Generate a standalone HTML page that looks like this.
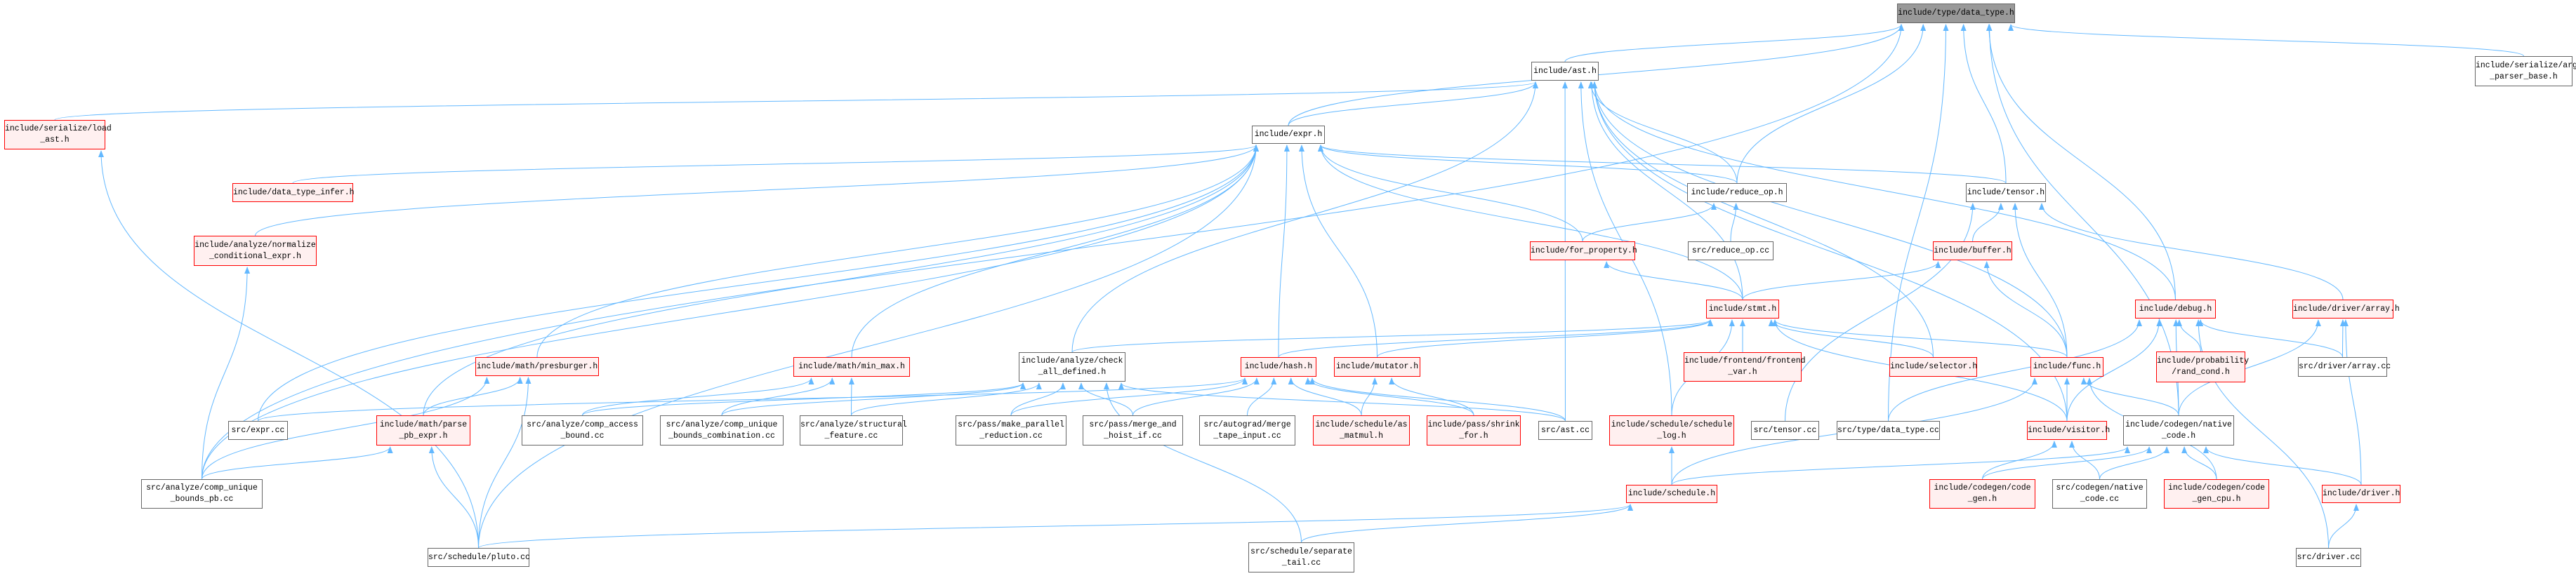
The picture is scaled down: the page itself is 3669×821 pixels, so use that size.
<!DOCTYPE html>
<html><head><meta charset="utf-8">
<style>
html,body{margin:0;padding:0;background:#fff;}
#wrap{position:relative;width:3669px;height:821px;overflow:hidden;background:#fff;}
svg{position:absolute;left:0;top:0;}
.n{position:absolute;box-sizing:border-box;border:1px solid #666;background:#fff;font-family:"Liberation Mono","DejaVu Sans Mono",monospace;font-size:11.5px;color:#000;text-align:center;display:flex;flex-direction:column;justify-content:center;line-height:16px;white-space:nowrap;overflow:visible;}
.r{border-color:#ff0000;background:#fff0f0;}
.g{background:#999;}
</style></head><body>
<div id="wrap">
<svg id="edges" width="3669" height="821" viewBox="0 0 3669 821">
<defs><marker id="ah" markerWidth="10" markerHeight="8" refX="9" refY="4" orient="auto" markerUnits="userSpaceOnUse"><path d="M0,0 L10,4 L0,8 z" fill="#63b8ff"/></marker></defs>
</svg>
<div class="n g" id="dt" style="left:2702px;top:5px;width:168px;height:28px">include/type/data_type.h</div>
<div class="n" id="arg" style="left:3525px;top:80px;width:139px;height:43px"><span>include/serialize/arg</span><span>_parser_base.h</span></div>
<div class="n" id="ast" style="left:2181px;top:88px;width:96px;height:27px">include/ast.h</div>
<div class="n r" id="load" style="left:6px;top:171px;width:144px;height:42px"><span>include/serialize/load</span><span>_ast.h</span></div>
<div class="n" id="expr" style="left:1783px;top:179px;width:104px;height:26px">include/expr.h</div>
<div class="n r" id="dti" style="left:331px;top:261px;width:172px;height:27px">include/data_type_infer.h</div>
<div class="n" id="redh" style="left:2403px;top:261px;width:142px;height:27px">include/reduce_op.h</div>
<div class="n" id="tensor" style="left:2800px;top:261px;width:114px;height:27px">include/tensor.h</div>
<div class="n r" id="norm" style="left:276px;top:336px;width:175px;height:43px"><span>include/analyze/normalize</span><span>_conditional_expr.h</span></div>
<div class="n r" id="forp" style="left:2179px;top:344px;width:150px;height:27px">include/for_property.h</div>
<div class="n" id="redcc" style="left:2404px;top:344px;width:122px;height:27px">src/reduce_op.cc</div>
<div class="n r" id="buffer" style="left:2753px;top:344px;width:113px;height:27px">include/buffer.h</div>
<div class="n r" id="stmt" style="left:2430px;top:427px;width:104px;height:27px">include/stmt.h</div>
<div class="n r" id="debug" style="left:3041px;top:427px;width:115px;height:27px">include/debug.h</div>
<div class="n r" id="darr" style="left:3265px;top:427px;width:144px;height:27px">include/driver/array.h</div>
<div class="n r" id="presb" style="left:677px;top:509px;width:176px;height:27px">include/math/presburger.h</div>
<div class="n r" id="minmax" style="left:1130px;top:509px;width:166px;height:28px">include/math/min_max.h</div>
<div class="n" id="check" style="left:1451px;top:502px;width:152px;height:42px"><span>include/analyze/check</span><span>_all_defined.h</span></div>
<div class="n r" id="hash" style="left:1767px;top:509px;width:108px;height:28px">include/hash.h</div>
<div class="n r" id="mut" style="left:1900px;top:509px;width:123px;height:28px">include/mutator.h</div>
<div class="n r" id="fvar" style="left:2398px;top:502px;width:168px;height:42px"><span>include/frontend/frontend</span><span>_var.h</span></div>
<div class="n r" id="sel" style="left:2691px;top:509px;width:125px;height:28px">include/selector.h</div>
<div class="n r" id="func" style="left:2892px;top:509px;width:104px;height:28px">include/func.h</div>
<div class="n r" id="prob" style="left:3071px;top:501px;width:127px;height:44px"><span>include/probability</span><span>/rand_cond.h</span></div>
<div class="n" id="darrcc" style="left:3273px;top:509px;width:127px;height:28px">src/driver/array.cc</div>
<div class="n" id="exprcc" style="left:325px;top:600px;width:85px;height:27px">src/expr.cc</div>
<div class="n r" id="parse" style="left:536px;top:592px;width:134px;height:43px"><span>include/math/parse</span><span>_pb_expr.h</span></div>
<div class="n" id="access" style="left:743px;top:592px;width:173px;height:43px"><span>src/analyze/comp_access</span><span>_bound.cc</span></div>
<div class="n" id="combo" style="left:940px;top:592px;width:176px;height:43px"><span>src/analyze/comp_unique</span><span>_bounds_combination.cc</span></div>
<div class="n" id="struct" style="left:1139px;top:592px;width:147px;height:43px"><span>src/analyze/structural</span><span>_feature.cc</span></div>
<div class="n" id="mpr" style="left:1361px;top:592px;width:158px;height:43px"><span>src/pass/make_parallel</span><span>_reduction.cc</span></div>
<div class="n" id="mhi" style="left:1542px;top:592px;width:143px;height:43px"><span>src/pass/merge_and</span><span>_hoist_if.cc</span></div>
<div class="n" id="tape" style="left:1708px;top:592px;width:137px;height:43px"><span>src/autograd/merge</span><span>_tape_input.cc</span></div>
<div class="n r" id="asm" style="left:1870px;top:592px;width:138px;height:43px"><span>include/schedule/as</span><span>_matmul.h</span></div>
<div class="n r" id="shrink" style="left:2032px;top:592px;width:134px;height:43px"><span>include/pass/shrink</span><span>_for.h</span></div>
<div class="n" id="astcc" style="left:2191px;top:600px;width:77px;height:27px">src/ast.cc</div>
<div class="n r" id="slog" style="left:2292px;top:592px;width:178px;height:43px"><span>include/schedule/schedule</span><span>_log.h</span></div>
<div class="n" id="tensorcc" style="left:2494px;top:600px;width:97px;height:27px">src/tensor.cc</div>
<div class="n" id="dtcc" style="left:2616px;top:600px;width:147px;height:27px">src/type/data_type.cc</div>
<div class="n r" id="visitor" style="left:2887px;top:600px;width:114px;height:27px">include/visitor.h</div>
<div class="n" id="native" style="left:3024px;top:592px;width:158px;height:43px"><span>include/codegen/native</span><span>_code.h</span></div>
<div class="n" id="cbp" style="left:201px;top:683px;width:173px;height:42px"><span>src/analyze/comp_unique</span><span>_bounds_pb.cc</span></div>
<div class="n r" id="sched" style="left:2316px;top:691px;width:130px;height:26px">include/schedule.h</div>
<div class="n r" id="cg" style="left:2748px;top:683px;width:151px;height:42px"><span>include/codegen/code</span><span>_gen.h</span></div>
<div class="n" id="ncc" style="left:2923px;top:683px;width:135px;height:42px"><span>src/codegen/native</span><span>_code.cc</span></div>
<div class="n r" id="cgcpu" style="left:3082px;top:683px;width:150px;height:42px"><span>include/codegen/code</span><span>_gen_cpu.h</span></div>
<div class="n r" id="driverh" style="left:3307px;top:691px;width:112px;height:26px">include/driver.h</div>
<div class="n" id="pluto" style="left:609px;top:781px;width:145px;height:27px">src/schedule/pluto.cc</div>
<div class="n" id="septail" style="left:1778px;top:773px;width:151px;height:43px"><span>src/schedule/separate</span><span>_tail.cc</span></div>
<div class="n" id="drivercc" style="left:3270px;top:781px;width:93px;height:27px">src/driver.cc</div>
</div>
<script>
(function(){
var E=[["ast","dt"],["expr","dt"],["expr","ast"],["load","ast"],["cbp","dt"],["pluto","load"],
["dti","expr"],["norm","expr"],["redh","expr"],["redh","dt"],["redh","ast"],["tensor","dt"],["tensor","expr"],
["forp","expr"],["forp","redh"],["redcc","redh"],["buffer","tensor"],["stmt","forp"],["stmt","buffer"],["stmt","ast"],["stmt","expr"],
["debug","ast"],["debug","dt"],["darr","tensor"],["presb","expr"],["minmax","expr"],["check","ast"],["check","stmt"],
["hash","expr"],["hash","stmt"],["mut","expr"],["mut","stmt"],["fvar","stmt"],["sel","stmt"],["sel","ast"],
["func","ast"],["func","tensor"],["func","buffer"],["func","stmt"],["prob","debug"],["darrcc","darr"],["darrcc","debug"],
["exprcc","expr"],["exprcc","hash"],["parse","presb"],["parse","expr"],["access","check"],["access","minmax"],["combo","check"],["combo","minmax"],
["struct","minmax"],["struct","check"],["mpr","check"],["mpr","hash"],["mhi","check"],["mhi","hash"],["tape","hash"],
["asm","mut"],["asm","hash"],["shrink","mut"],["shrink","hash"],["astcc","ast"],["astcc","hash"],["astcc","check"],
["slog","stmt"],["slog","ast"],["tensorcc","tensor"],["dtcc","dt"],["dtcc","debug"],["visitor","func"],["visitor","stmt"],
["visitor","ast"],["visitor","debug"],["native","func"],["native","darr"],["native","dt"],["native","debug"],
["cbp","presb"],["cbp","parse"],["cbp","norm"],["cbp","expr"],["sched","slog"],["sched","func"],["sched","native"],
["cg","native"],["cg","visitor"],["ncc","native"],["ncc","visitor"],["cgcpu","native"],["cgcpu","func"],
["driverh","native"],["driverh","darr"],["drivercc","driverh"],["drivercc","debug"],["pluto","parse"],["pluto","presb"],
["pluto","expr"],["pluto","sched"],["septail","check"],["septail","sched"],["arg","dt"]];
var svg=document.getElementById('edges');
function box(id){var e=document.getElementById(id);var x=parseFloat(e.style.left),y=parseFloat(e.style.top);
return {x:x,y:y,w:parseFloat(e.style.width),h:parseFloat(e.style.height)};}
E.forEach(function(p){
var c=box(p[0]),t=box(p[1]);
var sx=c.x+c.w/2,sy=c.y,ex,ey,d;
if(t.y+t.h<c.y-5){
 ex=t.x+t.w/2+(sx-(t.x+t.w/2))*0.15; if(ex<t.x+6)ex=t.x+6; if(ex>t.x+t.w-6)ex=t.x+t.w-6;
 ey=t.y+t.h+2;
 var m=(sy-ey)/2;
 d="M"+sx+","+sy+" C"+sx+","+(sy-m)+" "+ex+","+(ey+m)+" "+ex+","+ey;
}else{
 sy=c.y+c.h/2; ey=t.y+t.h/2;
 if(sx<t.x){ex=t.x-2;sx=c.x+c.w;}else{ex=t.x+t.w+2;sx=c.x;}
 d="M"+sx+","+sy+" C"+((sx+ex)/2)+","+(sy-30)+" "+((sx+ex)/2)+","+(ey)+" "+ex+","+ey;
}
var pa=document.createElementNS("http://www.w3.org/2000/svg","path");
pa.setAttribute("d",d);pa.setAttribute("fill","none");pa.setAttribute("stroke","#63b8ff");pa.setAttribute("stroke-width","1");
pa.setAttribute("marker-end","url(#ah)");svg.appendChild(pa);
});
})();
</script>
</body></html>
